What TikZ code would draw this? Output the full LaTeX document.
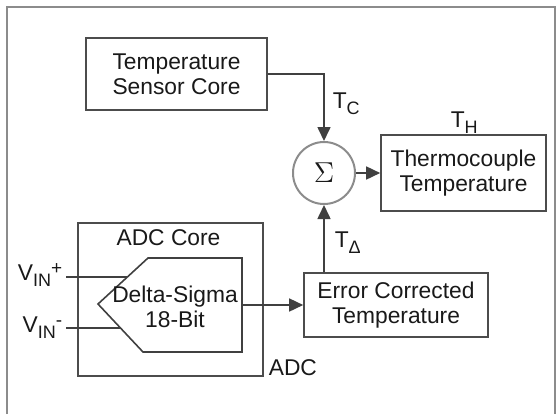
\documentclass[tikz,border=0pt]{standalone}
\usepackage{fontspec}
\setmainfont{Liberation Sans}
\usetikzlibrary{arrows.meta, positioning}

\newcommand{\lowtxt}[1]{\raisebox{-0.5ex}{\fontsize{9}{9}\selectfont #1}}
\newcommand{\hightxt}[1]{\raisebox{0.45ex}{\fontsize{9.5}{9.5}\selectfont #1}}

\begin{document}
\begin{tikzpicture}[
      x=0.5pt, y=-0.5pt, % one unit is one pixel of the reference
      >={Triangle[length=7pt,width=6.5pt]},
      line width=0.8pt,
      every node/.style={font=\fontsize{11.4}{12.5}\selectfont, text=black!90},
      blk/.style={
        rectangle,
        draw=black!70,
        align=center,
        inner sep=0pt
      },
      lbl/.style={inner sep=1.5pt},
      wire/.style={draw=black!75}
    ]
    \useasboundingbox (0,0) rectangle (557,414);
    % outer frame
    \draw[black!45, line width=1pt] (7,414) -- (7,7) -- (555,7) -- (555,414);

    \node[blk, minimum width=90.5pt, minimum height=36pt] (sensor) at (176.5,74) {Temperature\\Sensor Core};
    \node[circle, draw=black!45, line width=1pt, minimum size=31pt, inner sep=0pt, font=\fontsize{15}{15}\selectfont] (sum) at (324,173) {$\Sigma$};
    \node[blk, minimum width=82.5pt, minimum height=38pt] (thermo) at (463.5,173) {Thermocouple\\Temperature};
    \node[blk, minimum width=92pt, minimum height=32pt] (errc) at (396,305) {Error Corrected\\Temperature};
    \node[blk, minimum width=92.5pt, minimum height=76.5pt] (adc) at (170.5,299.5) {};
    \node[lbl, anchor=base] (adccore) at (168.5,245) {ADC Core};
    \node[lbl, anchor=base west] (adclbl) at (265,375) {ADC};

    % delta-sigma converter
    \draw[wire] (98,304) -- (148,258) -- (242,258) -- (242,352) -- (143,352) -- cycle;
    \node[lbl, align=center] (ds) at (175,307) {Delta-Sigma\\18-Bit};
    \coordinate (dsout) at (242,305);
    \coordinate (vp) at (127,277);
    \coordinate (vm) at (120.5,328);

    \node[lbl, anchor=base east] (vplbl) at (66,280) {V\lowtxt{IN}\hightxt{+}};
    \node[lbl, anchor=base east] (vmlbl) at (66,332) {V\lowtxt{IN}\hightxt{-}};

    % signal labels
    \node[lbl, anchor=base west] (tc) at (329,108) {T\lowtxt{C}};
    \node[lbl, anchor=base west] (th) at (447,127) {T\lowtxt{H}};
    \node[lbl, anchor=base west] (td) at (331,247) {T\lowtxt{Δ}};

    \draw[wire] (vplbl.east |- vp) -- (vp);
    \draw[wire] (vmlbl.east |- vm) -- (vm);
    \draw[wire, ->] (dsout) -- (errc.west);
    \draw[wire, ->] (sensor.east) -| (sum.north);
    \draw[wire, ->] (errc.north -| sum) -- (sum.south);
    \draw[wire, ->] (sum.east) -- (thermo.west);
  \end{tikzpicture}
\end{document}
